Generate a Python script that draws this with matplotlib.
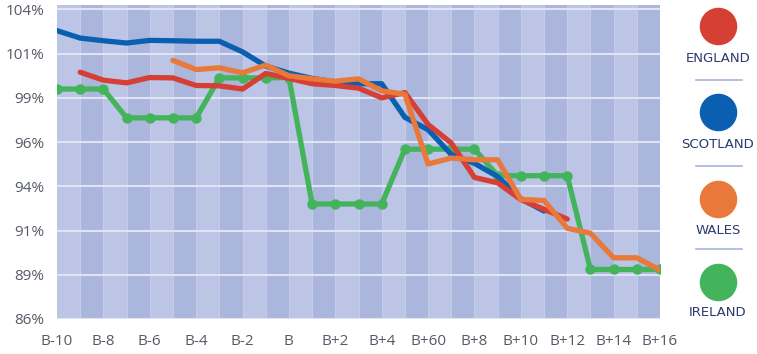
import matplotlib.pyplot as plt
from matplotlib.lines import Line2D

categories = ["B-10", "B-9", "B-8", "B-7", "B-6", "B-5", "B-4", "B-3", "B-2", "B-1",
              "B", "B+1", "B+2", "B+3", "B+4", "B+5", "B+60", "B+7", "B+8", "B+9",
              "B+10", "B+11", "B+12", "B+13", "B+14", "B+15", "B+16"]

nan = float("nan")
england = [nan, 100.45, 100.0, 99.85, 100.15, 100.13, 99.7, 99.68, 99.5, 100.38,
           100.1, 99.8, 99.7, 99.55, 99.0, 99.3, 97.5, 96.45, 94.5, 94.2,
           93.25, 92.7, 92.15, nan, nan, nan, nan]
scotland = [102.8, 102.38, 102.23, 102.1, 102.25, 102.23, 102.2, 102.2, 101.6, 100.8,
            100.4, 100.1, 99.9, 99.8, 99.8, 97.9, 97.2, 95.8, 95.3, 94.55,
            93.3, 92.6, nan, nan, nan, nan, nan]
wales = [nan, nan, nan, nan, nan, 101.12, 100.6, 100.7, 100.42, 100.85,
         100.25, 100.08, 99.94, 100.08, 99.4, 99.2, 95.26, 95.6, 95.5, 95.5,
         93.26, 93.2, 91.63, 91.35, 89.96, 89.96, 89.27]
ireland = [99.5, 99.5, 99.5, 97.87, 97.87, 97.87, 97.87, 100.13, 100.13, 100.13,
           100.15, 93.0, 93.0, 93.0, 93.0, 96.1, 96.1, 96.1, 96.1, 94.6,
           94.6, 94.6, 94.6, 89.3, 89.3, 89.3, 89.3]

ytick_vals = [86.5, 89, 91.5, 94, 96.5, 99, 101.5, 104]
ytick_labels = ["86%", "89%", "91%", "94%", "96%", "99%", "101%", "104%"]

names = ["ENGLAND", "SCOTLAND", "WALES", "IRELAND"]
colors = ["#d63f33", "#0a5fb0", "#e8793a", "#44b45c"]

plt.rcParams['font.family'] = ['Open Sans', 'DejaVu Sans']

fig = plt.figure(figsize=(7.57, 3.54), dpi=100)
ax = fig.add_axes([57 / 757, 1 - 319 / 354, 603 / 757, 314 / 354])

x = list(range(len(categories)))

# alternating column bands
for i in range(len(categories) - 1):
    ax.axvspan(i, i + 1, color="#bcc5e5" if i % 2 == 0 else "#abb6dc", lw=0, zorder=0)
for i in range(1, len(categories) - 1):
    ax.axvline(i, color="#c6cdea", lw=0.7, zorder=0.5)
for v in ytick_vals:
    ax.axhline(v, color="#dfe4f4", lw=1.5, zorder=1)

lw = 3.8
ax.plot(x, ireland, color=colors[3], lw=lw, marker="o", ms=6.5,
        solid_capstyle="round", solid_joinstyle="round", zorder=3)
ax.plot(x, scotland, color=colors[1], lw=lw, solid_capstyle="round",
        solid_joinstyle="round", zorder=4)
ax.plot(x, england, color=colors[0], lw=lw, solid_capstyle="round",
        solid_joinstyle="round", zorder=5)
ax.plot(x, wales, color=colors[2], lw=lw, solid_capstyle="round",
        solid_joinstyle="round", zorder=6)

ax.set_xlim(0, len(categories) - 1)
ax.set_ylim(86.5, 104.25)
ax.set_xticks(x[::2])
ax.set_xticklabels(categories[::2])
ax.set_yticks(ytick_vals)
ax.set_yticklabels(ytick_labels)
ax.tick_params(length=0, labelsize=11, colors="#555b66")
ax.tick_params(axis="x", pad=11)
ax.tick_params(axis="y", pad=9)
for s in ax.spines.values():
    s.set_visible(False)

# legend on the right
circle_y = [26, 112, 199, 282]
label_y = [58, 145, 230, 313]
sep_y = [80, 166, 249]
cx = 718 / 757
for c, n, cy, ly in zip(colors, names, circle_y, label_y):
    fig.add_artist(Line2D([cx], [1 - cy / 354], marker="o", ms=26, color=c,
                          transform=fig.transFigure))
    fig.text(cx, 1 - ly / 354, n, ha="center", va="center", fontsize=9.5,
             color="#2e3a6e", family=['DejaVu Sans'])
for sy in sep_y:
    fig.add_artist(Line2D([696 / 757, 742 / 757], [1 - sy / 354] * 2,
                          color="#a9b4dd", lw=1.2, transform=fig.transFigure))

fig.savefig("out.png", dpi=100)
